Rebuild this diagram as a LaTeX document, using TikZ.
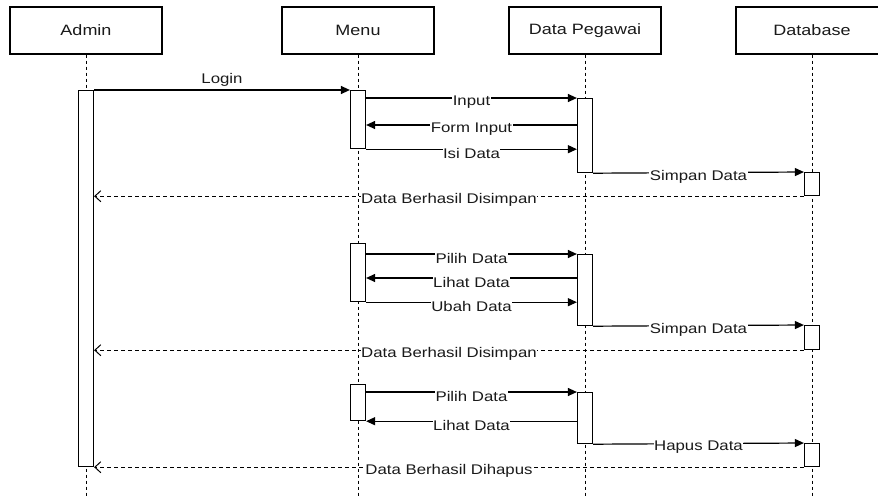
\documentclass[tikz,border=0pt]{standalone}
\usepackage{fontspec}
\setmainfont[FakeStretch=1.2]{Liberation Sans}
\usetikzlibrary{arrows.meta}
\definecolor{txt}{HTML}{1A1A1A}

\begin{document}
\begin{tikzpicture}[x=1pt,y=-1pt,line width=1.2pt,
    obj/.style={draw,fill=white,minimum width=152pt,minimum height=47pt,inner sep=0pt,
      text=txt,font=\fontsize{15}{18}\selectfont},
    act/.style={draw,fill=white,minimum width=15pt,inner sep=0pt,anchor=north},
    lifeline/.style={dash pattern=on 3pt off 3pt,line width=1pt},
    msg/.style={-{Triangle[length=9pt,width=8pt]}},
    ret/.style={-{Straight Barb[length=6pt,width=11pt]},dash pattern=on 4pt off 3pt,line width=1pt},
    lbl/.style={fill=white,inner sep=0.5pt,text=txt,font=\fontsize{14}{16}\selectfont,yshift=-4pt}]

  \useasboundingbox[fill=white] (0,0) rectangle (878,496);

  \begin{scope}[every node/.style={obj}]
    \node (admin)    at (86,30.5)  {Admin};
    \node (menu)     at (358,30.5) {Menu};
    \node (pegawai)  at (585,30.5) {Data Pegawai};
    \node (database) at (812,30.5) {Database};
  \end{scope}

  \foreach \o in {admin,menu,pegawai,database}
    \draw[lifeline] (\o.south) -- (\o.south |- 0,496);

  \begin{scope}[every node/.style={act}]
    \node[minimum height=376pt] (a1) at (86,90)  {};
    \node[minimum height=58pt]  (m1) at (358,90)  {};
    \node[minimum height=58pt]  (m2) at (358,243) {};
    \node[minimum height=36pt]  (m3) at (358,384) {};
    \node[minimum height=74pt]  (p1) at (585,98)  {};
    \node[minimum height=71pt]  (p2) at (585,254) {};
    \node[minimum height=51pt]  (p3) at (585,392) {};
    \node[minimum height=23pt]  (d1) at (812,172) {};
    \node[minimum height=24pt]  (d2) at (812,325) {};
    \node[minimum height=23pt]  (d3) at (812,443) {};
  \end{scope}

  \coordinate (f1) at ([yshift=-27pt]p1.north west);
  \coordinate (f2) at ([yshift=-24pt]p2.north west);

  \draw[msg] (a1.north east) -- node[lbl,above,yshift=6pt,fill=none] {Login} (m1.north west);

  \draw[msg] (m1.east |- p1.north) -- node[lbl] {Input} (p1.north west);
  \draw[msg] (f1) -- node[lbl] {Form Input} (m1.east |- f1);
  \draw[msg] (m1.south east) -- node[lbl] {Isi Data} (m1.south east -| p1.west);
  \draw[msg] (p1.south east) -- node[lbl] {Simpan Data} (d1.north west);
  \draw[ret] (d1.south west) -- node[lbl] {Data Berhasil Disimpan} (a1.east |- d1.south);

  \draw[msg] (m2.east |- p2.north) -- node[lbl] {Pilih Data} (p2.north west);
  \draw[msg] (f2) -- node[lbl] {Lihat Data} (m2.east |- f2);
  \draw[msg] (m2.south east) -- node[lbl] {Ubah Data} (m2.south east -| p2.west);
  \draw[msg] (p2.south east) -- node[lbl] {Simpan Data} (d2.north west);
  \draw[ret] (d2.south west) -- node[lbl] {Data Berhasil Disimpan} (a1.east |- d2.south);

  \draw[msg] (m3.east |- p3.north) -- node[lbl] {Pilih Data} (p3.north west);
  \draw[msg] (p3.west |- m3.south east) -- node[lbl] {Lihat Data} (m3.south east);
  \draw[msg] (p3.south east) -- node[lbl] {Hapus Data} (d3.north west);
  \draw[ret] (d3.south west) -- node[lbl] {Data Berhasil Dihapus} (a1.south east);

\end{tikzpicture}
\end{document}
